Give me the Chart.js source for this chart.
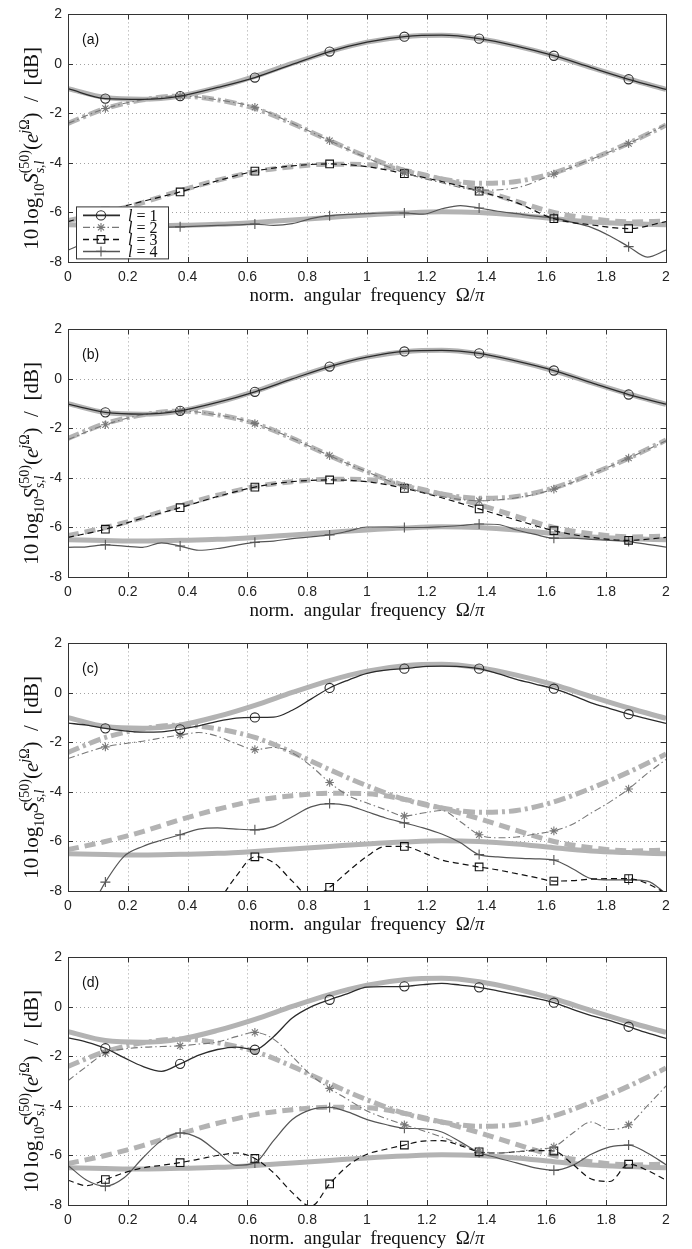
<!DOCTYPE html>
<html>
<head>
<meta charset="utf-8">
<script src="https://cdn.jsdelivr.net/npm/chart.js@4.4.1/dist/chart.umd.min.js"></script>
<style>
  html, body { margin: 0; padding: 0; background: #fff; overflow: hidden; }
  .panel { position: absolute; left: 0; width: 692px; height: 315px; }
</style>
</head>
<body>
<div class="panel" style="top:0px"><canvas id="chartA" width="692" height="315"></canvas></div>
<div class="panel" style="top:315px"><canvas id="chartB" width="692" height="315"></canvas></div>
<div class="panel" style="top:629px"><canvas id="chartC" width="692" height="315"></canvas></div>
<div class="panel" style="top:943px"><canvas id="chartD" width="692" height="315"></canvas></div>
<script>
'use strict'

// frequency grids (Omega/pi)
const xCoarse = [0, 0.125, 0.25, 0.375, 0.5, 0.625, 0.75, 0.875, 1, 1.125, 1.25, 1.375, 1.5, 1.625, 1.75, 1.875, 2];
const xFine = [0, 0.0625, 0.125, 0.1875, 0.25, 0.3125, 0.375, 0.4375, 0.5, 0.5625, 0.625, 0.6875, 0.75, 0.8125, 0.875, 0.9375,
  1, 1.0625, 1.125, 1.1875, 1.25, 1.3125, 1.375, 1.4375, 1.5, 1.5625, 1.625, 1.6875, 1.75, 1.8125, 1.875, 1.9375, 2];

// true spectra (thick gray, same in every panel), on xCoarse
const ref1 = [-1.0, -1.36, -1.43, -1.3, -0.95, -0.5, 0.02, 0.5, 0.88, 1.1, 1.16, 1.02, 0.72, 0.33, -0.15, -0.61, -1.03];
const ref2 = [-2.4, -1.8, -1.45, -1.3, -1.45, -1.8, -2.4, -3.1, -3.75, -4.3, -4.65, -4.82, -4.75, -4.4, -3.85, -3.2, -2.47];
const ref3 = [-6.33, -6.0, -5.6, -5.12, -4.7, -4.35, -4.15, -4.05, -4.07, -4.3, -4.65, -5.08, -5.55, -6.0, -6.25, -6.38, -6.35];
const ref4 = [-6.5, -6.53, -6.55, -6.52, -6.48, -6.4, -6.3, -6.2, -6.1, -6.02, -5.97, -6.0, -6.1, -6.25, -6.38, -6.45, -6.5];

// panel (a) estimates
const a1 = [-1.0, -1.4, -1.43, -1.3, -0.95, -0.55, -0.02, 0.5, 0.88, 1.1, 1.16, 1.02, 0.72, 0.33, -0.15, -0.62, -1.03];
const a2 = [-2.4, -1.8, -1.45, -1.3, -1.45, -1.75, -2.4, -3.1, -3.8, -4.4, -4.8, -5.1, -5.0, -4.45, -3.85, -3.22, -2.45];
const a3 = [-6.37, -5.95, -5.55, -5.17, -4.72, -4.33, -4.12, -4.04, -4.15, -4.43, -4.75, -5.14, -5.6, -6.25, -6.5, -6.65, -6.37];
const a4 = [-7.52, -7.2, -6.9, -6.7, -6.62, -6.6, -6.58, -6.55, -6.52, -6.5, -6.47, -6.52, -6.45, -6.25, -6.13, -6.08,
  -6.05, -6.02, -6.02, -6.07, -5.85, -5.72, -5.82, -5.95, -6.05, -6.15, -6.22, -6.4, -6.6, -6.95, -7.38, -7.8, -7.52];

// panel (b) estimates
const b1 = [-1.02, -1.35, -1.42, -1.29, -0.95, -0.52, 0.0, 0.5, 0.88, 1.11, 1.15, 1.03, 0.72, 0.34, -0.15, -0.63, -1.02];
const b2 = [-2.45, -1.85, -1.45, -1.3, -1.45, -1.8, -2.4, -3.1, -3.75, -4.35, -4.75, -4.92, -4.8, -4.45, -3.85, -3.2, -2.5];
const b3 = [-6.4, -6.07, -5.62, -5.2, -4.75, -4.37, -4.15, -4.08, -4.15, -4.42, -4.8, -5.25, -5.7, -6.13, -6.4, -6.52, -6.4];
const b4 = [-6.8, -6.78, -6.7, -6.75, -6.8, -6.62, -6.75, -6.92, -6.85, -6.72, -6.6, -6.55, -6.45, -6.38, -6.3, -6.15,
  -5.98, -5.98, -6.0, -6.0, -5.97, -5.92, -5.86, -5.88, -6.1, -6.28, -6.43, -6.43, -6.48, -6.52, -6.57, -6.68, -6.79];

// panel (c) estimates, on xFine
const c1 = [-1.22, -1.3, -1.43, -1.53, -1.58, -1.57, -1.47, -1.33, -1.15, -1.02, -0.99, -0.98, -0.7, -0.25, 0.2, 0.52,
  0.79, 0.92, 0.98, 1.06, 1.08, 1.06, 0.98, 0.78, 0.55, 0.36, 0.17, -0.1, -0.4, -0.63, -0.86, -1.05, -1.23];
const c2 = [-2.65, -2.4, -2.18, -2.05, -1.95, -1.82, -1.7, -1.6, -1.75, -2.05, -2.29, -2.2, -2.42, -2.95, -3.62, -4.15,
  -4.45, -4.72, -4.97, -4.85, -4.75, -5.2, -5.73, -5.85, -5.82, -5.7, -5.57, -5.3, -4.85, -4.4, -3.88, -3.25, -2.69];
const c3 = [-10, -10, -10, -10, -10, -10, -10, -9.6, -8.5, -7.4, -6.62, -6.85, -7.6, -8.25, -7.85, -7.2,
  -6.6, -6.2, -6.2, -6.45, -6.75, -6.9, -7.03, -7.15, -7.3, -7.45, -7.6, -7.58, -7.52, -7.5, -7.5, -7.7, -8.1];
const c4 = [-10, -9.0, -7.64, -6.6, -6.2, -5.95, -5.73, -5.5, -5.45, -5.5, -5.53, -5.4, -5.0, -4.6, -4.47, -4.55,
  -4.8, -5.05, -5.25, -5.45, -5.7, -6.05, -6.53, -6.62, -6.67, -6.7, -6.75, -7.1, -7.5, -7.55, -7.55, -7.6, -8.1];

// panel (d) estimates, on xFine
const d1 = [-1.25, -1.42, -1.67, -2.05, -2.4, -2.6, -2.3, -1.95, -1.72, -1.62, -1.73, -1.2, -0.45, 0.0, 0.29, 0.55,
  0.8, 0.82, 0.83, 0.9, 0.95, 0.88, 0.79, 0.65, 0.5, 0.35, 0.17, -0.1, -0.35, -0.55, -0.8, -1.05, -1.27];
const d2 = [-2.98, -2.4, -1.86, -1.7, -1.63, -1.6, -1.57, -1.5, -1.42, -1.2, -1.03, -1.3, -2.0, -2.75, -3.29, -3.75,
  -4.2, -4.5, -4.76, -5.0, -5.25, -5.55, -5.82, -5.9, -5.85, -5.75, -5.65, -5.1, -4.65, -4.95, -4.76, -4.0, -3.19];
const d3 = [-7.0, -7.22, -6.97, -6.7, -6.5, -6.4, -6.29, -6.15, -6.0, -5.9, -6.12, -6.7, -7.5, -8.05, -7.15, -6.4,
  -5.95, -5.75, -5.58, -5.42, -5.4, -5.6, -5.85, -5.9, -5.85, -5.8, -5.82, -6.35, -6.95, -7.05, -6.35, -6.6, -7.0];
const d4 = [-6.4, -7.0, -7.24, -6.9, -6.1, -5.4, -5.09, -5.3, -5.85, -6.4, -6.3, -5.4, -4.55, -4.15, -4.06, -4.25,
  -4.55, -4.75, -4.9, -4.92, -5.05, -5.45, -5.88, -6.1, -6.3, -6.5, -6.6, -6.4, -5.95, -5.65, -5.58, -5.9, -6.37];

const legendLabels = ['1', '2', '3', '4'];

// looks of the 4 estimated curves (thin) and of the true ones (thick gray)
const thinStyles = [
  { color: '#2b2b2b', width: 1.3, dash: [], point: 'circle', r: 4.6 },
  { color: '#777777', width: 1.1, dash: [7, 3, 1.5, 3], point: 'star', r: 4.3 },
  { color: '#111111', width: 1.2, dash: [6, 4], point: 'rect', r: 5.4 },
  { color: '#555555', width: 1.2, dash: [], point: 'cross', r: 5 }
];
const refColor = '#b3b3b3';
const refDash = [[], [12, 4, 3, 4], [11, 6], []];

const serif = '"Liberation Serif", "DejaVu Serif", serif';

function pairs(xs, ys) {
  return xs.map((x, i) => ({ x: x, y: ys[i] }));
}

// markers sit at 0.125, 0.375, ... 1.875
function isMarker(x) {
  let k = (x - 0.125) / 0.25;
  return Math.abs(k - Math.round(k)) < 1e-6;
}

function drawYTitle(ctx, cx, cy) {
  const big = 21, small = 14;
  const f = (size, italic) => (italic ? 'italic ' : '') + size + 'px ' + serif;
  const parts = [
    [['10', f(big), 0]],
    [['log', f(big), 0]],
    [['10', f(small), 6]],
    [['S', f(big, true), 0]],
    [['(50)', f(small), -9], ['s,l', f(small, true), 6]],
    [['(', f(big), 0]],
    [['e', f(big, true), 0]],
    [['j', f(small, true), -9]],
    [['Ω', f(small), -9]],
    [[')', f(big), 0]],
    [['  /  ', f(big), 0]],
    [['[dB]', f(big), 0]]
  ];
  ctx.save();
  ctx.fillStyle = '#111';
  ctx.textAlign = 'left';
  ctx.textBaseline = 'alphabetic';
  let widths = parts.map(g => Math.max(...g.map(p => { ctx.font = p[1]; return ctx.measureText(p[0]).width; })));
  let total = widths.reduce((s, w) => s + w, 0) + 4;
  ctx.translate(cx, cy);
  ctx.rotate(-Math.PI / 2);
  let pos = -total / 2;
  parts.forEach((g, i) => {
    g.forEach(p => { ctx.font = p[1]; ctx.fillText(p[0], pos, p[2]); });
    pos += widths[i] + (i === 0 ? 4 : 0);
  });
  ctx.restore();
}

function drawXTitle(ctx, cx, baseY) {
  const parts = [['norm.  angular  frequency  Ω/', '19px ' + serif], ['π', 'italic 19px ' + serif]];
  ctx.save();
  ctx.fillStyle = '#111';
  ctx.textAlign = 'left';
  ctx.textBaseline = 'alphabetic';
  let widths = parts.map(p => { ctx.font = p[1]; return ctx.measureText(p[0]).width; });
  let pos = cx - (widths[0] + widths[1]) / 2;
  parts.forEach((p, i) => { ctx.font = p[1]; ctx.fillText(p[0], pos, baseY); pos += widths[i]; });
  ctx.restore();
}

function drawLegend(ctx, ca) {
  const bx = ca.left + 8, by = ca.top + 192, bw = 92, bh = 52;
  ctx.save();
  ctx.fillStyle = '#fff';
  ctx.fillRect(bx, by, bw, bh);
  ctx.strokeStyle = '#333';
  ctx.lineWidth = 1;
  ctx.setLineDash([]);
  ctx.strokeRect(bx + 0.5, by + 0.5, bw, bh);
  thinStyles.forEach((s, i) => {
    let yy = by + 9 + i * 12;
    ctx.strokeStyle = s.color;
    ctx.lineWidth = s.width + 0.3;
    ctx.setLineDash(s.dash);
    ctx.beginPath();
    ctx.moveTo(bx + 7, yy);
    ctx.lineTo(bx + 44, yy);
    ctx.stroke();
    ctx.setLineDash([]);
    ctx.fillStyle = 'rgba(0,0,0,0)';
    ctx.lineWidth = 1.1;
    Chart.helpers.drawPoint(ctx, { pointStyle: s.point, radius: s.r, rotation: 0, borderWidth: 1.1 }, bx + 25, yy);
    ctx.fillStyle = '#111';
    ctx.textBaseline = 'middle';
    ctx.font = 'italic 16px ' + serif;
    ctx.fillText('l', bx + 52, yy + 1);
    let w = ctx.measureText('l').width;
    ctx.font = '16px ' + serif;
    ctx.fillText(' = ' + legendLabels[i], bx + 52 + w, yy + 1);
  });
  ctx.restore();
}

const panelDeco = {
  id: 'panelDeco',
  beforeDatasetsDraw(chart) {
    const ctx = chart.ctx, ca = chart.chartArea;
    const sx = chart.scales.x, sy = chart.scales.y;
    ctx.save();
    ctx.strokeStyle = '#8a8a8a';
    ctx.lineWidth = 0.8;
    ctx.setLineDash([1, 3]);
    sx.ticks.forEach(t => {
      let px = Math.round(sx.getPixelForValue(t.value)) + 0.5;
      if (px < ca.left + 2 || px > ca.right - 2) return;
      ctx.beginPath(); ctx.moveTo(px, ca.top); ctx.lineTo(px, ca.bottom); ctx.stroke();
    });
    sy.ticks.forEach(t => {
      let py = Math.round(sy.getPixelForValue(t.value)) + 0.5;
      if (py < ca.top + 2 || py > ca.bottom - 2) return;
      ctx.beginPath(); ctx.moveTo(ca.left, py); ctx.lineTo(ca.right, py); ctx.stroke();
    });
    ctx.restore();
  },
  afterDatasetsDraw(chart, args, opts) {
    const ctx = chart.ctx, ca = chart.chartArea;
    const sx = chart.scales.x, sy = chart.scales.y;
    ctx.save();
    ctx.setLineDash([]);
    ctx.strokeStyle = '#333';
    ctx.lineWidth = 1;
    ctx.strokeRect(Math.round(ca.left) + 0.5, Math.round(ca.top) + 0.5, Math.round(ca.width), Math.round(ca.height));
    // inward ticks on all four sides
    ctx.beginPath();
    sx.ticks.forEach(t => {
      let px = Math.round(sx.getPixelForValue(t.value)) + 0.5;
      ctx.moveTo(px, ca.bottom); ctx.lineTo(px, ca.bottom - 5);
      ctx.moveTo(px, ca.top); ctx.lineTo(px, ca.top + 5);
    });
    sy.ticks.forEach(t => {
      let py = Math.round(sy.getPixelForValue(t.value)) + 0.5;
      ctx.moveTo(ca.left, py); ctx.lineTo(ca.left + 5, py);
      ctx.moveTo(ca.right, py); ctx.lineTo(ca.right - 5, py);
    });
    ctx.stroke();
    ctx.fillStyle = '#111';
    ctx.font = '14px "Liberation Sans", Arial, sans-serif';
    ctx.textBaseline = 'alphabetic';
    ctx.fillText(opts.tag, ca.left + 14, ca.top + 30);
    ctx.restore();
    if (opts.legend) drawLegend(ctx, ca);
    drawXTitle(ctx, (ca.left + ca.right) / 2, ca.bottom + 39);
    drawYTitle(ctx, 38, ca.top + 134);
  }
};

function makePanel(id, estimates, tag, withLegend) {
  let datasets = [];
  estimates.forEach((e, i) => {
    let s = thinStyles[i];
    datasets.push({
      data: pairs(e[0], e[1]),
      borderColor: s.color,
      borderWidth: s.width,
      borderDash: s.dash,
      pointStyle: s.point,
      pointRadius: c => (c.raw && isMarker(c.raw.x)) ? s.r : 0,
      pointBorderColor: s.color,
      pointBackgroundColor: 'rgba(0,0,0,0)',
      pointBorderWidth: 1.1,
      cubicInterpolationMode: 'monotone',
      fill: false,
      order: 1
    });
  });
  [ref1, ref2, ref3, ref4].forEach((r, i) => {
    datasets.push({
      data: pairs(xCoarse, r),
      borderColor: refColor,
      borderWidth: 5,
      borderDash: refDash[i],
      borderCapStyle: 'butt',
      pointRadius: 0,
      cubicInterpolationMode: 'monotone',
      fill: false,
      order: 2
    });
  });

  const tickFont = { family: '"Liberation Sans", Arial, sans-serif', size: 14 };
  return new Chart(document.getElementById(id), {
    type: 'line',
    data: { datasets: datasets },
    options: {
      responsive: false,
      animation: false,
      events: [],
      layout: { padding: { top: 10, right: 26, bottom: 0, left: 0 } },
      scales: {
        x: {
          type: 'linear', min: 0, max: 2,
          afterFit: s => { s.height = 53; },
          grid: { display: false, drawTicks: false },
          border: { display: false },
          ticks: {
            stepSize: 0.2, padding: 7, color: '#222', font: tickFont, maxRotation: 0, autoSkip: false,
            callback: v => String(Math.round(v * 10) / 10)
          }
        },
        y: {
          type: 'linear', min: -8, max: 2,
          afterFit: s => { s.width = 68; },
          grid: { display: false, drawTicks: false },
          border: { display: false },
          ticks: { stepSize: 2, padding: 6, color: '#222', font: tickFont }
        }
      },
      plugins: {
        legend: { display: false },
        tooltip: { enabled: false },
        panelDeco: { tag: tag, legend: withLegend }
      }
    },
    plugins: [panelDeco]
  });
}

makePanel('chartA', [[xCoarse, a1], [xCoarse, a2], [xCoarse, a3], [xFine, a4]], '(a)', true);
makePanel('chartB', [[xCoarse, b1], [xCoarse, b2], [xCoarse, b3], [xFine, b4]], '(b)', false);
makePanel('chartC', [[xFine, c1], [xFine, c2], [xFine, c3], [xFine, c4]], '(c)', false);
makePanel('chartD', [[xFine, d1], [xFine, d2], [xFine, d3], [xFine, d4]], '(d)', false);
</script>
</body>
</html>
